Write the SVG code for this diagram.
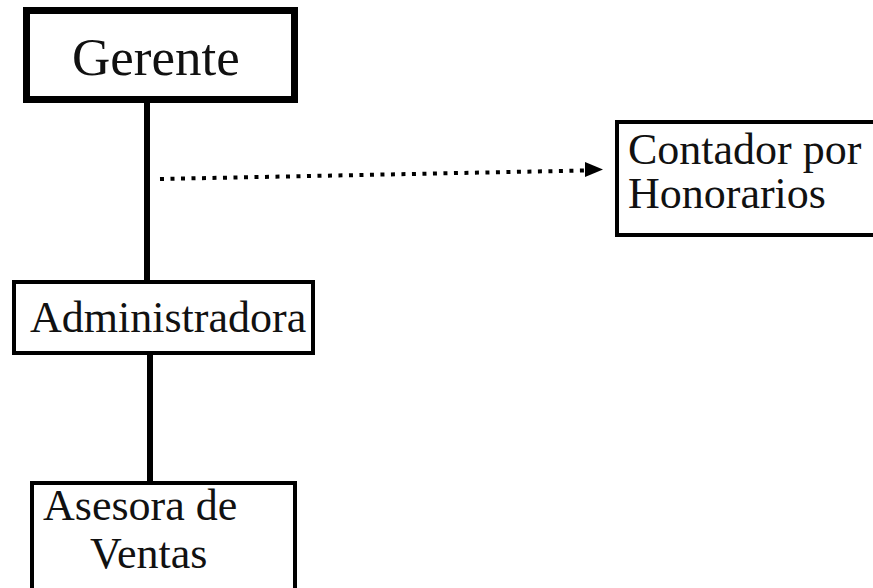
<svg xmlns="http://www.w3.org/2000/svg" width="873" height="588" viewBox="0 0 873 588">
<defs>
<style>
.box{fill:#fff;stroke:#000;stroke-width:4}
.t{font-family:'Liberation Serif','Times New Roman',Times,serif;font-size:44px;fill:#111}
.solid{stroke:#000;stroke-width:6;fill:none}
.dot{stroke:#000;stroke-width:4;stroke-dasharray:4 6.5;fill:none}
</style>
</defs>
<rect width="873" height="588" fill="#fff"/>
<g id="connectors">
<line class="solid" x1="147" y1="100" x2="147" y2="283"/>
<line class="solid" x1="150" y1="352" x2="150" y2="484"/>
<line class="dot" x1="160" y1="179" x2="585" y2="170.5"/>
<path d="M585,162 L603,169.5 L585,177 Z" fill="#000"/>
</g>
<g id="gerente">
<rect class="box" x="26.5" y="10.5" width="268" height="89" style="stroke-width:7"/>
<text class="t" x="72" y="75" font-family="Liberation Serif" style="font-size:53px">Gerente</text>
</g>
<g id="contador">
<rect class="box" x="617" y="122" width="270" height="113"/>
<text class="t" x="628" y="164" font-family="Liberation Serif">Contador por</text>
<text class="t" x="628" y="208" font-family="Liberation Serif">Honorarios</text>
</g>
<g id="administradora">
<rect class="box" x="14" y="282" width="299" height="71"/>
<text class="t" x="30" y="332" font-family="Liberation Serif">Administradora</text>
</g>
<g id="asesora">
<rect class="box" x="32" y="483" width="263" height="120"/>
<text class="t" x="43" y="520" font-family="Liberation Serif">Asesora de</text>
<text class="t" x="90" y="568" font-family="Liberation Serif">Ventas</text>
</g>
</svg>
